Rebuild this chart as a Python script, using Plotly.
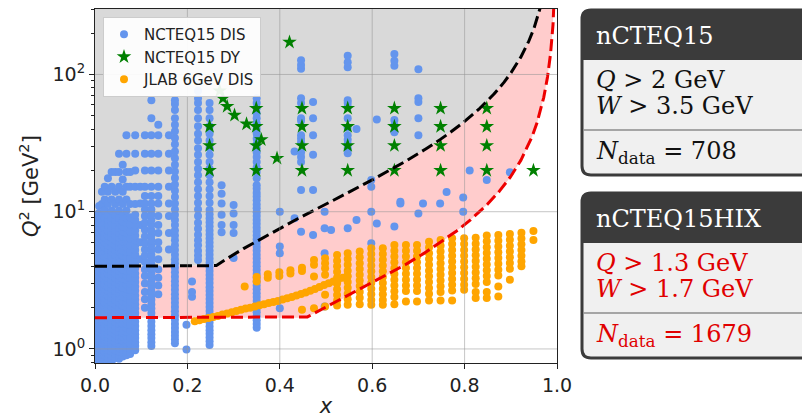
import numpy as np
import plotly.graph_objects as go

# ------------------------------------------------------------------
# DATA
# ------------------------------------------------------------------
# NCTEQ15 DIS : x of each column of points and the Q^2 values in it
dis_col_x = [0.003, 0.009, 0.015, 0.021, 0.028, 0.036, 0.044, 0.052, 0.060, 0.068,
             0.076, 0.087, 0.098, 0.108, 0.122, 0.137, 0.160, 0.173, 0.198, 0.210,
             0.223, 0.248, 0.274, 0.300, 0.350, 0.400, 0.432, 0.446, 0.472, 0.497,
             0.511, 0.547, 0.566, 0.598, 0.610, 0.648, 0.661, 0.700, 0.710, 0.747,
             0.761, 0.797, 0.811, 0.848, 0.898]
dis_col_q2 = [
    [0.8, 0.86, 0.92, 0.98, 1.05, 1.12, 1.2, 1.28, 1.37, 1.47, 1.58, 1.7, 1.83, 1.97, 2.12, 2.28, 2.45, 2.65, 2.85, 3.07, 3.3, 3.55, 3.85, 4.15, 4.5, 4.85, 5.25, 5.7, 6.2, 6.7, 7.3, 8.0, 8.7, 9.5],
    [0.8, 0.85, 0.9, 0.96, 1.02, 1.09, 1.16, 1.24, 1.33, 1.42, 1.52, 1.63, 1.75, 1.88, 2.02, 2.18, 2.35, 2.53, 2.73, 2.95, 3.18, 3.43, 3.7, 4.0, 4.35, 4.7, 5.1, 5.5, 6.0, 6.5, 7.0, 7.6, 8.3, 9.0, 9.8, 11.0],
    [0.8, 0.86, 0.92, 0.98, 1.05, 1.12, 1.2, 1.28, 1.37, 1.47, 1.58, 1.7, 1.83, 1.97, 2.12, 2.28, 2.45, 2.65, 2.85, 3.07, 3.3, 3.55, 3.85, 4.15, 4.5, 4.85, 5.25, 5.7, 6.2, 6.7, 7.3, 8.0, 8.7, 9.5, 11.4, 14.0],
    [0.8, 0.85, 0.9, 0.96, 1.02, 1.09, 1.16, 1.24, 1.33, 1.42, 1.52, 1.63, 1.75, 1.88, 2.02, 2.18, 2.35, 2.53, 2.73, 2.95, 3.18, 3.43, 3.7, 4.0, 4.35, 4.7, 5.1, 5.5, 6.0, 6.5, 7.0, 7.6, 8.3, 9.0, 10.2, 12.3, 15.2],
    [0.8, 0.86, 0.92, 0.98, 1.05, 1.12, 1.2, 1.28, 1.37, 1.47, 1.58, 1.7, 1.83, 1.97, 2.12, 2.28, 2.45, 2.65, 2.85, 3.07, 3.3, 3.55, 3.85, 4.15, 4.5, 4.85, 5.25, 5.7, 6.2, 6.7, 7.3, 8.0, 8.7, 9.5, 11.4, 14.0, 17.5],
    [0.8, 0.85, 0.9, 0.96, 1.02, 1.09, 1.16, 1.24, 1.33, 1.42, 1.52, 1.63, 1.75, 1.88, 2.02, 2.18, 2.35, 2.53, 2.73, 2.95, 3.18, 3.43, 3.7, 4.0, 4.35, 4.7, 5.1, 5.5, 6.0, 6.5, 7.0, 7.6, 8.3, 9.0, 10.2, 12.3, 15.2, 19.5],
    [0.86, 0.92, 0.98, 1.05, 1.12, 1.2, 1.28, 1.37, 1.47, 1.58, 1.7, 1.83, 1.97, 2.12, 2.28, 2.45, 2.65, 2.85, 3.07, 3.3, 3.55, 3.85, 4.15, 4.5, 4.85, 5.25, 5.7, 6.2, 6.7, 7.3, 8.0, 8.7, 9.5, 11.4, 14.0, 19.5],
    [0.85, 0.9, 0.96, 1.02, 1.09, 1.16, 1.24, 1.33, 1.42, 1.52, 1.63, 1.75, 1.88, 2.02, 2.18, 2.35, 2.53, 2.73, 2.95, 3.18, 3.43, 3.7, 4.0, 4.35, 4.7, 5.1, 5.5, 6.0, 6.5, 7.0, 7.6, 8.3, 9.0, 10.2, 12.3, 15.2, 19.5, 26.5],
    [0.88, 0.94, 1.0, 1.07, 1.15, 1.23, 1.32, 1.42, 1.53, 1.65, 1.78, 1.92, 2.07, 2.23, 2.4, 2.6, 2.8, 3.02, 3.25, 3.5, 3.8, 4.1, 4.45, 4.8, 5.2, 5.65, 6.1, 6.6, 7.2, 7.8, 8.5, 9.3, 11.4, 14.0, 17.2, 22.0],
    [0.9, 0.96, 1.02, 1.09, 1.16, 1.24, 1.33, 1.42, 1.52, 1.63, 1.75, 1.88, 2.02, 2.18, 2.35, 2.53, 2.73, 2.95, 3.18, 3.43, 3.7, 4.0, 4.35, 4.7, 5.1, 5.5, 6.0, 6.5, 7.0, 7.6, 8.3, 9.0, 10.2, 12.3, 15.2, 19.5, 26.5, 36.0],
    [0.92, 1.0, 1.1, 1.2, 1.35, 1.5, 1.65, 1.8, 2.0, 2.2, 2.45, 2.7, 3.0, 3.3, 3.7, 4.1, 4.6, 5.1, 5.7, 6.4, 7.2, 8.1, 9.1, 11.4, 15.2, 19.5],
    [0.98, 1.05, 1.12, 1.2, 1.28, 1.37, 1.47, 1.58, 1.7, 1.83, 1.97, 2.12, 2.28, 2.45, 2.65, 2.85, 3.07, 3.3, 3.55, 3.85, 4.15, 4.5, 4.85, 5.25, 5.7, 6.2, 6.7, 7.3, 8.0, 8.7, 9.5, 11.4, 15.2, 20.0, 26.5, 36.0],
    [4.5, 6.0, 8.0, 11.5, 15.2],
    [2.0, 2.3, 2.6, 3.0, 3.4, 3.8, 4.3, 4.8, 5.3, 5.9, 6.6, 7.4, 8.3, 9.3, 10.4, 11.5, 13.0, 15.2, 20.0, 26.5, 36.0],
    [1.05, 1.12, 1.2, 1.28, 1.37, 1.47, 1.58, 1.7, 1.83, 1.97, 2.12, 2.28, 2.45, 2.65, 2.85, 3.07, 3.3, 3.55, 3.85, 4.15, 4.5, 4.85, 5.25, 5.7, 6.2, 6.7, 7.3, 8.0, 8.7, 9.5, 10.4, 11.5, 13.0, 15.2, 20.0, 26.5, 36.0, 48.0, 65.0],
    [2.5, 2.9, 3.3, 3.8, 4.5, 5.3, 6.0, 7.0, 8.0, 9.3, 11.5, 13.0, 15.2, 20.0, 26.5, 36.0, 43.0],
    [5.3, 7.0, 9.3, 11.5, 15.2, 20.0, 26.5, 36.0],
    [1.1, 1.17, 1.25, 1.33, 1.42, 1.52, 1.63, 1.75, 1.88, 2.02, 2.17, 2.33, 2.5, 2.7, 2.9, 3.12, 3.36, 3.62, 3.9, 4.2, 4.5, 4.85, 5.25, 5.7, 6.2, 6.7, 7.3, 8.0, 8.7, 9.5, 10.4, 11.5, 12.8, 14.2, 15.8, 17.6, 19.6, 22.0, 24.5, 27.5, 31.0, 34.5, 38.5, 43.0, 48.0, 55.0, 61.0, 65.0],
    [0.99, 1.5],
    [2.4, 2.6, 3.1],
    [4.45, 4.8, 5.2, 5.7, 6.2, 6.8, 7.5, 8.3, 9.3, 10.4, 11.6, 13.0, 14.6, 16.4, 18.4, 20.6, 23.0, 26.0, 29.0, 33.0, 37.0, 42.0, 48.0, 55.0, 62.0, 67.0, 76.0],
    [1.07, 1.14, 1.21, 1.29, 1.37, 1.46, 1.56, 1.66, 1.77, 1.89, 2.02, 2.16, 2.31, 2.47, 2.64, 2.82, 3.02, 3.23, 3.46, 3.7, 3.96, 4.24, 4.54, 4.86, 5.2, 5.57, 5.96, 6.38, 6.83, 7.31, 7.82, 8.37, 8.96, 9.6, 10.3, 11.6, 13.0, 14.6, 16.4, 18.4, 20.6, 23.0, 26.0, 29.0, 33.0, 37.0, 42.0, 48.0, 55.0, 62.0],
    [7.1, 8.0, 9.5, 11.5, 13.5, 15.6],
    [4.6, 7.0, 8.0, 9.7, 11.2],
    [1.43, 1.52, 1.62, 1.73, 1.85, 1.97, 2.1, 2.24, 2.39, 2.55, 2.72, 2.9, 3.1, 3.3, 3.52, 3.76, 4.0, 4.27, 4.56, 4.86, 5.19, 5.54, 5.91, 6.3, 6.72, 7.17, 7.65, 8.16, 8.71, 9.29, 9.91, 10.6, 11.3, 12.1, 12.9, 13.7, 14.7, 15.6, 17.5, 19.5, 21.0, 23.0, 25.0, 27.0, 29.0, 31.0, 34.0, 37.0, 40.0, 44.0, 48.0, 52.0, 57.0, 62.0, 67.0],
    [1.98, 4.98, 5.57, 10.0],
    [8.96, 27.5],
    [7.16, 14.4, 23.0, 25.0, 27.0, 32.0, 34.0, 36.0, 46.0, 48.0, 62.0, 67.0, 110.0, 117.0, 127.0],
    [6.77, 14.4, 26.0, 36.0, 48.0, 63.0],
    [2.04, 4.98, 7.58, 10.0],
    [7.37],
    [7.58, 26.7, 29.0, 31.0, 33.5, 36.0, 41.0, 48.0, 58.0, 62.0, 65.0, 113.0, 123.0, 137.0],
    [8.7, 40.0],
    [5.9, 10.0, 15.2, 17.0],
    [8.2, 47.0],
    [7.8, 38.0, 42.5, 46.5, 116.0, 126.0, 141.0],
    [11.5, 11.8],
    [9.7, 36.0, 48.0, 63.0, 67.0, 109.0],
    [11.5],
    [11.5],
    [13.9],
    [10.0, 12.7],
    [20.0],
    [17.0],
    [19.4],
]

# NCTEQ15 DY (green stars)
dy_x = [0.248, 0.248, 0.248, 0.270, 0.277, 0.286, 0.302, 0.328,
        0.349, 0.349, 0.349, 0.349, 0.360, 0.394, 0.421,
        0.448, 0.448, 0.448, 0.448, 0.547, 0.547, 0.547, 0.547,
        0.648, 0.648, 0.648, 0.648, 0.748, 0.748, 0.748, 0.748,
        0.848, 0.848, 0.848, 0.848, 0.949]
dy_q2 = [41.8, 30.3, 20.0, 76.0, 67.0, 58.5, 50.5, 43.6,
         56.7, 41.8, 30.3, 20.0, 33.5, 24.5, 172.0,
         56.7, 41.8, 30.3, 20.0, 56.7, 41.8, 30.3, 20.0,
         56.7, 41.8, 30.3, 20.0, 56.7, 41.8, 30.3, 20.0,
         56.7, 41.8, 30.3, 20.0, 20.0]

# JLAB 6GeV DIS (orange): low diagonal band
jlab_line_x = [0.216, 0.226, 0.236, 0.246, 0.256, 0.266, 0.276, 0.286, 0.296, 0.306, 0.316, 0.326,
               0.336, 0.346, 0.356, 0.366, 0.376, 0.386, 0.396, 0.406, 0.416, 0.426, 0.436, 0.446,
               0.456, 0.466, 0.476, 0.486, 0.496, 0.506, 0.516, 0.526, 0.536, 0.546]
jlab_line_q2 = [1.59, 1.62, 1.65, 1.68, 1.71, 1.74, 1.78, 1.81, 1.85, 1.89, 1.93, 1.97,
                2.0, 2.04, 2.08, 2.12, 2.16, 2.2, 2.24, 2.29, 2.34, 2.39, 2.45, 2.51,
                2.58, 2.66, 2.74, 2.83, 2.92, 3.01, 3.1, 3.2, 3.3, 3.4]
# JLAB: isolated points between x = 0.32 and 0.50
jlab_mid_x = [0.324, 0.350, 0.350, 0.374, 0.374, 0.399, 0.399, 0.423, 0.423, 0.448, 0.448, 0.448,
              0.474, 0.474, 0.474, 0.474, 0.498, 0.498, 0.498, 0.498, 0.498, 0.498]
jlab_mid_q2 = [2.85, 3.1, 3.35, 3.3, 3.5, 3.4, 3.62, 3.55, 3.75, 3.7, 3.9, 1.93,
               4.45, 4.1, 3.37, 1.98, 4.58, 4.21, 3.87, 3.47, 2.48, 2.04]
# JLAB: vertical columns at large x
jlab_col_x = [0.524, 0.547, 0.573, 0.598, 0.623, 0.648, 0.673, 0.697, 0.723, 0.748,
              0.773, 0.799, 0.824, 0.848, 0.873, 0.898, 0.923, 0.949]
jlab_col_q2 = [
    [4.84, 4.4, 4.0, 3.65, 3.3, 3.0, 2.72, 2.47, 2.25, 2.07],
    [4.98, 4.52, 4.1, 3.72, 3.38, 3.07, 2.79, 2.53, 2.3, 2.1],
    [5.12, 4.65, 4.22, 3.83, 3.48, 3.16, 2.87, 2.6, 2.36, 2.12],
    [5.42, 4.92, 4.46, 4.05, 3.68, 3.34, 3.03, 2.75, 2.5, 2.27, 2.1],
    [5.42, 4.92, 4.46, 4.05, 3.68, 3.34, 3.03, 2.75, 2.5, 2.27, 2.1],
    [5.72, 5.19, 4.71, 4.28, 3.88, 3.52, 3.2, 2.9, 2.63, 2.39, 2.12],
    [5.73, 5.2, 4.72, 4.28, 3.89, 3.53, 3.2, 2.9, 2.64, 2.22],
    [5.73, 5.2, 4.72, 4.28, 3.89, 3.53, 3.2, 2.9, 2.64, 2.22],
    [6.05, 5.49, 4.98, 4.52, 4.1, 3.72, 3.38, 3.07, 2.78, 2.52, 2.25],
    [6.23, 5.65, 5.13, 4.65, 4.22, 3.83, 3.48, 3.16, 2.86, 2.6, 2.25],
    [6.4, 5.81, 5.27, 4.78, 4.34, 3.94, 3.57, 3.24, 2.94, 2.67, 2.25],
    [6.4, 5.81, 5.27, 4.78, 4.34, 3.94, 3.57, 3.24, 2.94, 2.7],
    [6.45, 5.85, 5.31, 4.82, 4.37, 3.97, 3.6, 3.27, 2.97, 2.6, 2.35],
    [6.7, 6.08, 5.52, 5.01, 4.54, 4.12, 3.74, 3.4, 3.08, 2.6, 2.35],
    [6.78, 6.15, 5.58, 5.06, 4.6, 4.17, 3.78, 3.43, 2.85, 2.41],
    [6.88, 6.24, 5.66, 5.14, 4.66, 4.23, 3.84, 3.2],
    [7.04, 6.39, 5.8, 5.26, 4.77, 4.33, 4.0],
    [7.24, 6.23],
]

# kinematic cuts (text of the boxes)
M_P = 0.938
CUT_NCTEQ15 = (2.0, 3.5)    # Q_min, W_min  [GeV]
CUT_HIX = (1.3, 1.7)

x_ticks = [0.0, 0.2, 0.4, 0.6, 0.8, 1.0]
x_ticktext = ["0.0", "0.2", "0.4", "0.6", "0.8", "1.0"]
y_ticks = [1, 10, 100]
y_ticktext = ["10<sup>0</sup>", "10<sup>1</sup>", "10<sup>2</sup>"]
Y_RANGE = (0.79, 300.0)

# ------------------------------------------------------------------
def flatten(cols_x, cols_q):
    xs, qs = [], []
    for x, q in zip(cols_x, cols_q):
        xs += [x] * len(q)
        qs += list(q)
    return xs, qs

dis_x, dis_q2 = flatten(dis_col_x, dis_col_q2)
jc_x, jc_q2 = flatten(jlab_col_x, jlab_col_q2)
jlab_x = jlab_line_x + jlab_mid_x + jc_x
jlab_q2 = jlab_line_q2 + jlab_mid_q2 + jc_q2

TOP = 2000.0
def cut_curve(qmin, wmin):
    q2min, a = qmin ** 2, wmin ** 2 - M_P ** 2
    xs = np.linspace(0, 1, 6001)[:-1]
    q = np.maximum(q2min, a * xs / (1 - xs))
    m = q < TOP
    return np.append(xs[m], TOP / (TOP + a)), np.append(q[m], TOP)

xb, qb = cut_curve(*CUT_NCTEQ15)
xr, qr = cut_curve(*CUT_HIX)

fig = go.Figure()
fig.add_trace(go.Scatter(x=np.concatenate([[0], xb, [0]]), y=np.concatenate([[TOP], qb, [TOP]]),
                         mode="lines", fill="toself", fillcolor="#d9d9d9",
                         line=dict(width=0), hoverinfo="skip", showlegend=False))
fig.add_trace(go.Scatter(x=np.concatenate([xb, xr[::-1]]), y=np.concatenate([qb, qr[::-1]]),
                         mode="lines", fill="toself", fillcolor="#ffcccc",
                         line=dict(width=0), hoverinfo="skip", showlegend=False))

fig.add_trace(go.Scatter(x=dis_x, y=dis_q2, mode="markers", name="NCTEQ15 DIS",
                         marker=dict(color="#6495ED", size=8, line=dict(width=0))))
fig.add_trace(go.Scatter(x=dy_x, y=dy_q2, mode="markers", name="NCTEQ15 DY",
                         marker=dict(color="#008000", size=11, symbol="star", line=dict(width=0))))
fig.add_trace(go.Scatter(x=jlab_x, y=jlab_q2, mode="markers", name="JLAB 6GeV DIS",
                         marker=dict(color="#FFA500", size=8, line=dict(width=0))))

fig.add_trace(go.Scatter(x=xb, y=qb, mode="lines", showlegend=False, hoverinfo="skip",
                         line=dict(color="black", width=3, dash="12px,5px")))
fig.add_trace(go.Scatter(x=xr, y=qr, mode="lines", showlegend=False, hoverinfo="skip",
                         line=dict(color="#ee0000", width=3, dash="12px,5px")))

# ------------------------------------------------------------------
W, H = 802, 418
L, R, T, B = 95, 245, 9, 55
PW, PH = W - L - R, H - T - B
def PX(px): return (px - L) / PW          # window px -> paper
def PY(py): return (H - B - py) / PH

ylo, yhi = np.log10(Y_RANGE[0]), np.log10(Y_RANGE[1])
shapes = []
grid_col = "rgba(150,150,150,0.55)"
for xv in x_ticks[1:-1]:
    shapes.append(dict(type="line", xref="x", yref="paper", x0=xv, x1=xv, y0=0, y1=1,
                       line=dict(color=grid_col, width=1), layer="above"))
for yv in y_ticks:
    yp = (np.log10(yv) - ylo) / (yhi - ylo)
    shapes.append(dict(type="line", xref="paper", yref="paper", x0=0, x1=1, y0=yp, y1=yp,
                       line=dict(color=grid_col, width=1), layer="above"))

def rrect(x0, y0, x1, y1, r, top_only=False):
    p = f"M {PX(x0)},{PY(y0 + r)} Q {PX(x0)},{PY(y0)} {PX(x0 + r)},{PY(y0)} "
    p += f"L {PX(x1 - r)},{PY(y0)} Q {PX(x1)},{PY(y0)} {PX(x1)},{PY(y0 + r)} "
    if top_only:
        p += f"L {PX(x1)},{PY(y1)} L {PX(x0)},{PY(y1)} Z"
    else:
        p += f"L {PX(x1)},{PY(y1 - r)} Q {PX(x1)},{PY(y1)} {PX(x1 - r)},{PY(y1)} "
        p += f"L {PX(x0 + r)},{PY(y1)} Q {PX(x0)},{PY(y1)} {PX(x0)},{PY(y1 - r)} Z"
    return p

dark = "#3b3b3b"
annots = []
boxes = [
    (10, 60, 130, 175, "nCTEQ15", ["<i>Q</i> > 2 GeV", "<i>W</i> > 3.5 GeV"], "<i>N</i><sub>data</sub> = 708", "#111111"),
    (193, 243, 313, 358, "nCTEQ15HIX", ["<i>Q</i> > 1.3 GeV", "<i>W</i> > 1.7 GeV"], "<i>N</i><sub>data</sub> = 1679", "#e00000"),
]
for (y0, yh, ys, y1, title, lines, ntext, col) in boxes:
    shapes.append(dict(type="path", xref="paper", yref="paper", path=rrect(582, y0, 830, y1, 9),
                       fillcolor="#f0f0f0", line=dict(color=dark, width=3), layer="above"))
    shapes.append(dict(type="path", xref="paper", yref="paper", path=rrect(582, y0, 830, yh, 9, True),
                       fillcolor=dark, line=dict(color=dark, width=0), layer="above"))
    shapes.append(dict(type="line", xref="paper", yref="paper", x0=PX(583.5), x1=PX(830),
                       y0=PY(ys), y1=PY(ys), line=dict(color="#8c8c8c", width=1.5), layer="above"))
    annots.append(dict(xref="paper", yref="paper", x=PX(594), y=PY((y0 + yh) / 2 + 1), text=title,
                       showarrow=False, xanchor="left", yanchor="middle",
                       font=dict(family="DejaVu Serif", size=24, color="white")))
    annots.append(dict(xref="paper", yref="paper", x=PX(594), y=PY(yh + 20), text=lines[0],
                       showarrow=False, xanchor="left", yanchor="middle",
                       font=dict(family="DejaVu Serif", size=24, color=col)))
    annots.append(dict(xref="paper", yref="paper", x=PX(594), y=PY(yh + 46), text=lines[1],
                       showarrow=False, xanchor="left", yanchor="middle",
                       font=dict(family="DejaVu Serif", size=24, color=col)))
    annots.append(dict(xref="paper", yref="paper", x=PX(594), y=PY(ys + 22), text=ntext,
                       showarrow=False, xanchor="left", yanchor="middle",
                       font=dict(family="DejaVu Serif", size=24, color=col)))

minor_vals = [m * 10.0 ** k for k in range(-1, 3) for m in range(2, 10)
              if Y_RANGE[0] <= m * 10.0 ** k <= Y_RANGE[1]]

fig.update_layout(
    width=W, height=H, margin=dict(l=L, r=R, t=T, b=B, autoexpand=False),
    paper_bgcolor="white", plot_bgcolor="white",
    font=dict(family="DejaVu Sans", color="#222222"),
    showlegend=True,
    legend=dict(x=PX(103), y=PY(17), xanchor="left", yanchor="top",
                bgcolor="rgba(255,255,255,0.92)", bordercolor="#cccccc", borderwidth=1,
                font=dict(family="DejaVu Sans", size=15, color="#222222"),
                itemsizing="trace", tracegroupgap=0),
    shapes=shapes, annotations=annots,
    xaxis=dict(range=[0, 1], tickvals=x_ticks, ticktext=x_ticktext, showgrid=False, zeroline=False,
               ticks="outside", ticklen=5, tickwidth=1, tickcolor="#222222",
               showline=True, mirror=True, linecolor="#222222", linewidth=1,
               tickfont=dict(size=19), automargin=False,
               title=dict(text="<i>x</i>", font=dict(size=21), standoff=4)),
    yaxis=dict(type="log", range=[ylo, yhi], tickvals=y_ticks, ticktext=y_ticktext,
               showgrid=False, zeroline=False,
               ticks="outside", ticklen=5, tickwidth=1, tickcolor="#222222",
               minor=dict(tickvals=minor_vals, ticks="outside", ticklen=3, tickcolor="#222222", showgrid=False),
               showline=True, mirror=True, linecolor="#222222", linewidth=1,
               tickfont=dict(size=19), automargin=False,
               title=dict(text="<i>Q</i><sup>2</sup> [GeV<sup>2</sup>]", font=dict(size=21), standoff=8)),
)

# remove the default 8px page margin so the figure fills the 802x418 window exactly
fig.write_html("out.html", config=dict(displayModeBar=False, staticPlot=True),
               post_script="document.body.style.margin='0';document.body.style.overflow='hidden';")
